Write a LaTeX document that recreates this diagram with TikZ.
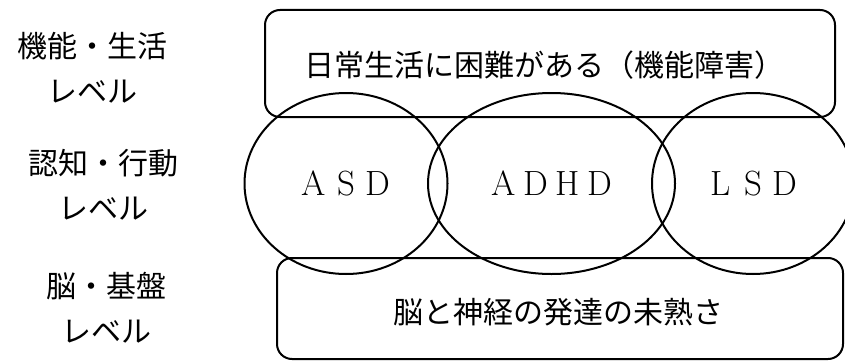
\documentclass[tikz,border=0pt]{standalone}
\usepackage{fontspec}
\newfontfamily\jp{Noto Sans CJK JP}
\usetikzlibrary{shapes.geometric}
\tikzset{
  box/.style={draw, line width=2pt, rounded corners=15pt, inner sep=0pt},
  oval/.style={draw, ellipse, line width=2pt, inner sep=0pt, font=\fontsize{35}{40}\selectfont},
  jptext/.style={font=\jp\fontsize{30}{36}\selectfont, inner sep=0pt},
  lvl/.style={font=\jp\fontsize{30}{45}\selectfont, align=center, inner sep=0pt}
}
\newcommand{\fwl}[1]{\makebox[32pt]{#1}}
\begin{document}
\begin{tikzpicture}[x=1pt,y=-1pt]
\useasboundingbox (0,0) rectangle (845,361);
% rounded boxes
\node[box, minimum width=570pt, minimum height=107pt] (top) at (550,63.5) {};
\node[box, minimum width=566pt, minimum height=101pt] (bottom) at (560,308.5) {};
% ellipses
\node[oval, minimum width=203pt, minimum height=181pt] (asd) at (346,183.5) {\fwl{A}\fwl{S}\fwl{D}};
\node[oval, minimum width=247pt, minimum height=181pt] (adhd) at (551.5,183.5) {\fwl{A}\fwl{D}\fwl{H}\fwl{D}};
\node[oval, minimum width=202pt, minimum height=181pt] (lsd) at (753,183.5) {\fwl{L}\fwl{S}\fwl{D}};
% box texts
\node[jptext] (toptext) at (544,65) {日常生活に困難がある（機能障害）};
\node[jptext] (bottext) at (558.5,312) {脳と神経の発達の未熟さ};
% level labels
\node[lvl] (l1) at (92.5,67.5) {機能・生活\\レベル};
\node[lvl] (l2) at (103.5,185) {認知・行動\\レベル};
\node[lvl] (l3) at (106,308) {脳・基盤\\レベル};
\end{tikzpicture}
\end{document}
